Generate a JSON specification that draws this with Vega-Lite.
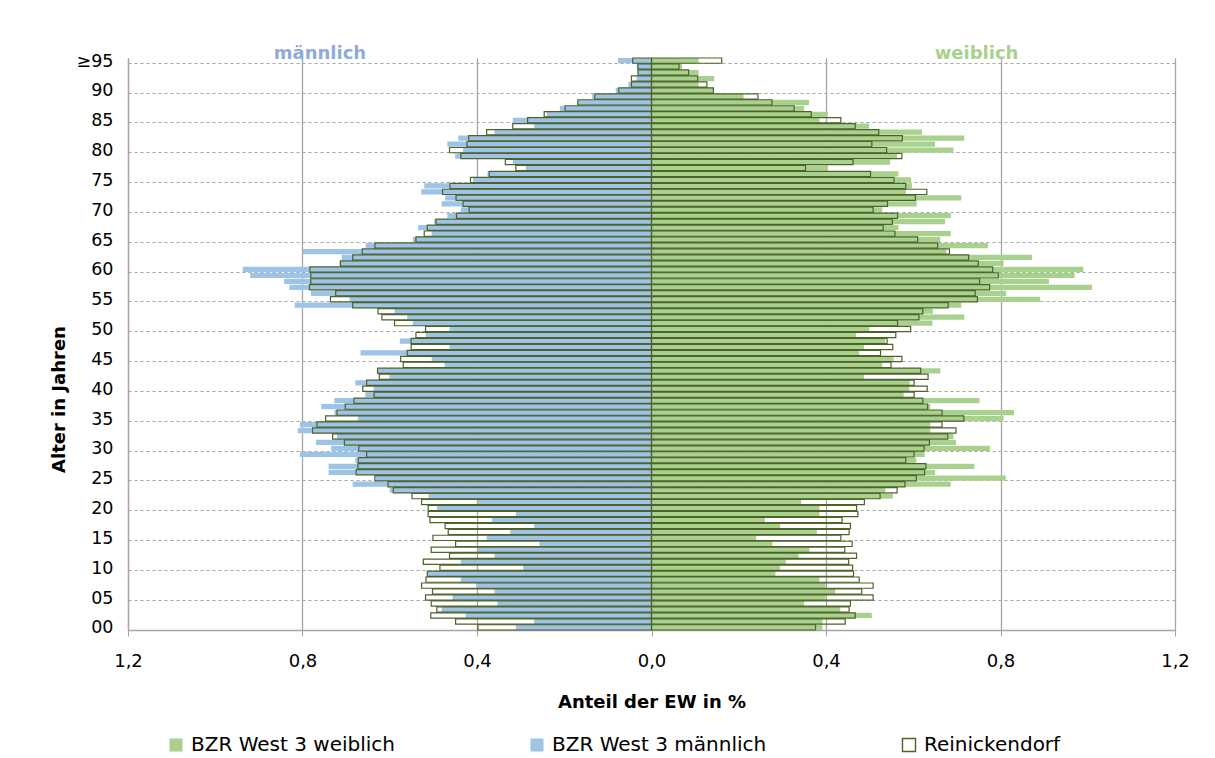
{
  "$schema": "https://vega.github.io/schema/vega-lite/v6.json",
  "width": 1047,
  "height": 572,
  "autosize": "none",
  "padding": {"left": 128, "top": 58, "right": 40, "bottom": 128},
  "background": "white",
  "config": {
    "view": {"stroke": null},
    "font": "DejaVu Sans",
    "axis": {"labelFont": "DejaVu Sans", "titleFont": "DejaVu Sans", "labelColor": "#000000", "titleColor": "#000000"},
    "legend": {"labelFont": "DejaVu Sans"}
  },
  "datasets": {
    "pyr": [
      {"a":95,"m":-0.077,"rm":-0.043,"w":0.108,"rw":0.161},
      {"a":94,"m":-0.034,"rm":-0.031,"w":0.070,"rw":0.063},
      {"a":93,"m":-0.031,"rm":-0.031,"w":0.108,"rw":0.085},
      {"a":92,"m":-0.034,"rm":-0.046,"w":0.144,"rw":0.106},
      {"a":91,"m":-0.053,"rm":-0.046,"w":0.108,"rw":0.127},
      {"a":90,"m":-0.082,"rm":-0.075,"w":0.142,"rw":0.142},
      {"a":89,"m":-0.136,"rm":-0.130,"w":0.211,"rw":0.244},
      {"a":88,"m":-0.170,"rm":-0.169,"w":0.361,"rw":0.276},
      {"a":87,"m":-0.210,"rm":-0.198,"w":0.350,"rw":0.327},
      {"a":86,"m":-0.240,"rm":-0.246,"w":0.404,"rw":0.366},
      {"a":85,"m":-0.318,"rm":-0.284,"w":0.385,"rw":0.434},
      {"a":84,"m":-0.269,"rm":-0.318,"w":0.499,"rw":0.467},
      {"a":83,"m":-0.360,"rm":-0.378,"w":0.620,"rw":0.521},
      {"a":82,"m":-0.443,"rm":-0.419,"w":0.717,"rw":0.575},
      {"a":81,"m":-0.468,"rm":-0.423,"w":0.650,"rw":0.505},
      {"a":80,"m":-0.432,"rm":-0.463,"w":0.692,"rw":0.539},
      {"a":79,"m":-0.450,"rm":-0.437,"w":0.563,"rw":0.574},
      {"a":78,"m":-0.318,"rm":-0.335,"w":0.547,"rw":0.462},
      {"a":77,"m":-0.288,"rm":-0.311,"w":0.404,"rw":0.353},
      {"a":76,"m":-0.376,"rm":-0.372,"w":0.566,"rw":0.502},
      {"a":75,"m":-0.409,"rm":-0.415,"w":0.595,"rw":0.556},
      {"a":74,"m":-0.521,"rm":-0.462,"w":0.597,"rw":0.583},
      {"a":73,"m":-0.528,"rm":-0.479,"w":0.583,"rw":0.631},
      {"a":72,"m":-0.473,"rm":-0.448,"w":0.710,"rw":0.605},
      {"a":71,"m":-0.481,"rm":-0.432,"w":0.608,"rw":0.541},
      {"a":70,"m":-0.437,"rm":-0.418,"w":0.529,"rw":0.508},
      {"a":69,"m":-0.468,"rm":-0.447,"w":0.686,"rw":0.564},
      {"a":68,"m":-0.498,"rm":-0.494,"w":0.673,"rw":0.552},
      {"a":67,"m":-0.535,"rm":-0.514,"w":0.566,"rw":0.531},
      {"a":66,"m":-0.504,"rm":-0.521,"w":0.686,"rw":0.558},
      {"a":65,"m":-0.547,"rm":-0.540,"w":0.662,"rw":0.610},
      {"a":64,"m":-0.655,"rm":-0.634,"w":0.771,"rw":0.656},
      {"a":63,"m":-0.799,"rm":-0.663,"w":0.676,"rw":0.683},
      {"a":62,"m":-0.710,"rm":-0.685,"w":0.872,"rw":0.727},
      {"a":61,"m":-0.715,"rm":-0.713,"w":0.807,"rw":0.749},
      {"a":60,"m":-0.937,"rm":-0.783,"w":0.990,"rw":0.782},
      {"a":59,"m":-0.920,"rm":-0.781,"w":0.970,"rw":0.795},
      {"a":58,"m":-0.842,"rm":-0.781,"w":0.911,"rw":0.752},
      {"a":57,"m":-0.830,"rm":-0.784,"w":1.010,"rw":0.775},
      {"a":56,"m":-0.781,"rm":-0.724,"w":0.813,"rw":0.742},
      {"a":55,"m":-0.692,"rm":-0.736,"w":0.891,"rw":0.747},
      {"a":54,"m":-0.818,"rm":-0.685,"w":0.710,"rw":0.680},
      {"a":53,"m":-0.589,"rm":-0.627,"w":0.645,"rw":0.622},
      {"a":52,"m":-0.560,"rm":-0.618,"w":0.717,"rw":0.613},
      {"a":51,"m":-0.547,"rm":-0.589,"w":0.644,"rw":0.564},
      {"a":50,"m":-0.463,"rm":-0.518,"w":0.499,"rw":0.594},
      {"a":49,"m":-0.518,"rm":-0.540,"w":0.469,"rw":0.560},
      {"a":48,"m":-0.577,"rm":-0.551,"w":0.536,"rw":0.540},
      {"a":47,"m":-0.463,"rm":-0.551,"w":0.487,"rw":0.553},
      {"a":46,"m":-0.667,"rm":-0.560,"w":0.476,"rw":0.525},
      {"a":45,"m":-0.504,"rm":-0.575,"w":0.555,"rw":0.574},
      {"a":44,"m":-0.474,"rm":-0.569,"w":0.529,"rw":0.549},
      {"a":43,"m":-0.628,"rm":-0.628,"w":0.662,"rw":0.617},
      {"a":42,"m":-0.601,"rm":-0.624,"w":0.487,"rw":0.634},
      {"a":41,"m":-0.679,"rm":-0.653,"w":0.592,"rw":0.602},
      {"a":40,"m":-0.637,"rm":-0.662,"w":0.591,"rw":0.632},
      {"a":39,"m":-0.656,"rm":-0.636,"w":0.578,"rw":0.602},
      {"a":38,"m":-0.727,"rm":-0.682,"w":0.752,"rw":0.622},
      {"a":37,"m":-0.757,"rm":-0.702,"w":0.639,"rw":0.633},
      {"a":36,"m":-0.727,"rm":-0.721,"w":0.831,"rw":0.666},
      {"a":35,"m":-0.673,"rm":-0.747,"w":0.807,"rw":0.716},
      {"a":34,"m":-0.806,"rm":-0.767,"w":0.639,"rw":0.666},
      {"a":33,"m":-0.811,"rm":-0.777,"w":0.639,"rw":0.698},
      {"a":32,"m":-0.721,"rm":-0.731,"w":0.692,"rw":0.679},
      {"a":31,"m":-0.769,"rm":-0.704,"w":0.698,"rw":0.637},
      {"a":30,"m":-0.734,"rm":-0.671,"w":0.776,"rw":0.625},
      {"a":29,"m":-0.806,"rm":-0.653,"w":0.626,"rw":0.602},
      {"a":28,"m":-0.679,"rm":-0.672,"w":0.607,"rw":0.583},
      {"a":27,"m":-0.740,"rm":-0.673,"w":0.740,"rw":0.629},
      {"a":26,"m":-0.740,"rm":-0.677,"w":0.650,"rw":0.626},
      {"a":25,"m":-0.632,"rm":-0.634,"w":0.812,"rw":0.607},
      {"a":24,"m":-0.685,"rm":-0.604,"w":0.686,"rw":0.581},
      {"a":23,"m":-0.600,"rm":-0.592,"w":0.536,"rw":0.563},
      {"a":22,"m":-0.511,"rm":-0.549,"w":0.553,"rw":0.524},
      {"a":21,"m":-0.398,"rm":-0.527,"w":0.343,"rw":0.488},
      {"a":20,"m":-0.492,"rm":-0.512,"w":0.385,"rw":0.470},
      {"a":19,"m":-0.311,"rm":-0.512,"w":0.385,"rw":0.473},
      {"a":18,"m":-0.366,"rm":-0.508,"w":0.260,"rw":0.437},
      {"a":17,"m":-0.269,"rm":-0.473,"w":0.295,"rw":0.456},
      {"a":16,"m":-0.324,"rm":-0.466,"w":0.379,"rw":0.453},
      {"a":15,"m":-0.378,"rm":-0.501,"w":0.240,"rw":0.434},
      {"a":14,"m":-0.257,"rm":-0.449,"w":0.277,"rw":0.460},
      {"a":13,"m":-0.398,"rm":-0.505,"w":0.362,"rw":0.443},
      {"a":12,"m":-0.360,"rm":-0.463,"w":0.337,"rw":0.470},
      {"a":11,"m":-0.437,"rm":-0.523,"w":0.308,"rw":0.452},
      {"a":10,"m":-0.294,"rm":-0.485,"w":0.295,"rw":0.461},
      {"a":9,"m":-0.514,"rm":-0.514,"w":0.284,"rw":0.463},
      {"a":8,"m":-0.437,"rm":-0.517,"w":0.385,"rw":0.476},
      {"a":7,"m":-0.402,"rm":-0.527,"w":0.399,"rw":0.508},
      {"a":6,"m":-0.360,"rm":-0.502,"w":0.421,"rw":0.482},
      {"a":5,"m":-0.456,"rm":-0.518,"w":0.399,"rw":0.508},
      {"a":4,"m":-0.353,"rm":-0.505,"w":0.350,"rw":0.456},
      {"a":3,"m":-0.481,"rm":-0.492,"w":0.433,"rw":0.453},
      {"a":2,"m":-0.426,"rm":-0.506,"w":0.505,"rw":0.467},
      {"a":1,"m":-0.269,"rm":-0.449,"w":0.392,"rw":0.444},
      {"a":0,"m":-0.311,"rm":-0.398,"w":0.392,"rw":0.376}
    ],
    "labels": [
      {"t": "männlich", "x": -0.76, "a": 95},
      {"t": "weiblich", "x": 0.745, "a": 95}
    ]
  },
  "layer": [
    {
      "data": {"name": "pyr"},
      "transform": [{"fold": ["w", "m"], "as": ["k", "v"]}],
      "mark": {"type": "bar"},
      "encoding": {
        "y": {
          "field": "a", "type": "ordinal", "sort": "descending",
          "scale": {"paddingInner": 0.12, "paddingOuter": 0},
          "axis": {
            "title": "Alter in Jahren",
            "values": [0,5,10,15,20,25,30,35,40,45,50,55,60,65,70,75,80,85,90,95],
            "labelExpr": "datum.value == 95 ? '≥95' : (datum.value < 10 ? '0' + datum.value : '' + datum.value)",
            "bandPosition": 1,
            "ticks": false,
            "domain": true,
            "domainColor": "#A6A6A6",
            "domainWidth": 1.3,
            "grid": true,
            "gridColor": "#A6A6A6",
            "gridDash": [3, 3],
            "gridWidth": 1.2,
            "labelFontSize": 17.5,
            "labelPadding": 15,
            "labelOffset": 1,
            "labelAngle": 0,
            "titleFontSize": 18,
            "titleFontWeight": "bold",
            "titleX": -60,
            "titleY": 341,
            "titleAngle": 270
          }
        },
        "x": {
          "field": "v", "type": "quantitative", "stack": null,
          "scale": {"domain": [-1.2, 1.2], "nice": false, "zero": false},
          "axis": {
            "title": "Anteil der EW in %",
            "values": [-1.2, -0.8, -0.4, 0, 0.4, 0.8, 1.2],
            "labelExpr": "replace(format(abs(datum.value), '.1f'), '.', ',')",
            "grid": true,
            "gridColor": "#A6A6A6",
            "gridWidth": 1.3,
            "domainColor": "#A6A6A6",
            "domainWidth": 1.3,
            "tickColor": "#A6A6A6",
            "tickSize": 6,
            "labelFontSize": 18,
            "labelPadding": 16,
            "labelFlush": false,
            "titleFontSize": 18,
            "titleFontWeight": "bold",
            "titlePadding": 23
          }
        },
        "color": {
          "field": "k", "type": "nominal",
          "scale": {"domain": ["w", "m", "r"], "range": ["#A9D18E", "#9DC3E6", "#FFFFFF"]},
          "legend": {
            "title": null,
            "orient": "none",
            "direction": "horizontal",
            "columns": 3,
            "legendX": 38,
            "legendY": 677,
            "columnPadding": 132,
            "symbolType": "square",
            "symbolSize": 170,
            "symbolOpacity": 1,
            "labelFontSize": 20,
            "labelOffset": 5,
            "labelColor": "#000000",
            "labelLimit": 400,
            "labelExpr": "datum.value == 'w' ? 'BZR West 3 weiblich' : (datum.value == 'm' ? 'BZR West 3 männlich' : 'Reinickendorf')",
            "encoding": {
              "symbols": {
                "stroke": {"condition": {"test": "datum.value === 'r'", "value": "#4F6228"}, "value": "transparent"},
                "strokeWidth": {"value": 1.4}
              }
            }
          }
        }
      }
    },
    {
      "data": {"name": "pyr"},
      "transform": [{"fold": ["rw", "rm"], "as": ["k", "v"]}],
      "mark": {"type": "bar", "fill": "transparent", "stroke": "#4F6228", "strokeWidth": 1.2},
      "encoding": {
        "y": {"field": "a", "type": "ordinal", "sort": "descending"},
        "x": {"field": "v", "type": "quantitative", "stack": null}
      }
    },
    {
      "data": {"name": "labels"},
      "transform": [{"filter": "datum.t == 'männlich'"}],
      "mark": {"type": "text", "fontSize": 18, "fontWeight": "bold", "color": "#8FAADC", "align": "center", "baseline": "alphabetic", "dy": -2},
      "encoding": {
        "y": {"field": "a", "type": "ordinal", "sort": "descending"},
        "x": {"field": "x", "type": "quantitative"},
        "text": {"field": "t"}
      }
    },
    {
      "data": {"name": "labels"},
      "transform": [{"filter": "datum.t == 'weiblich'"}],
      "mark": {"type": "text", "fontSize": 18, "fontWeight": "bold", "color": "#A9D18E", "align": "center", "baseline": "alphabetic", "dy": -2},
      "encoding": {
        "y": {"field": "a", "type": "ordinal", "sort": "descending"},
        "x": {"field": "x", "type": "quantitative"},
        "text": {"field": "t"}
      }
    }
  ]
}
